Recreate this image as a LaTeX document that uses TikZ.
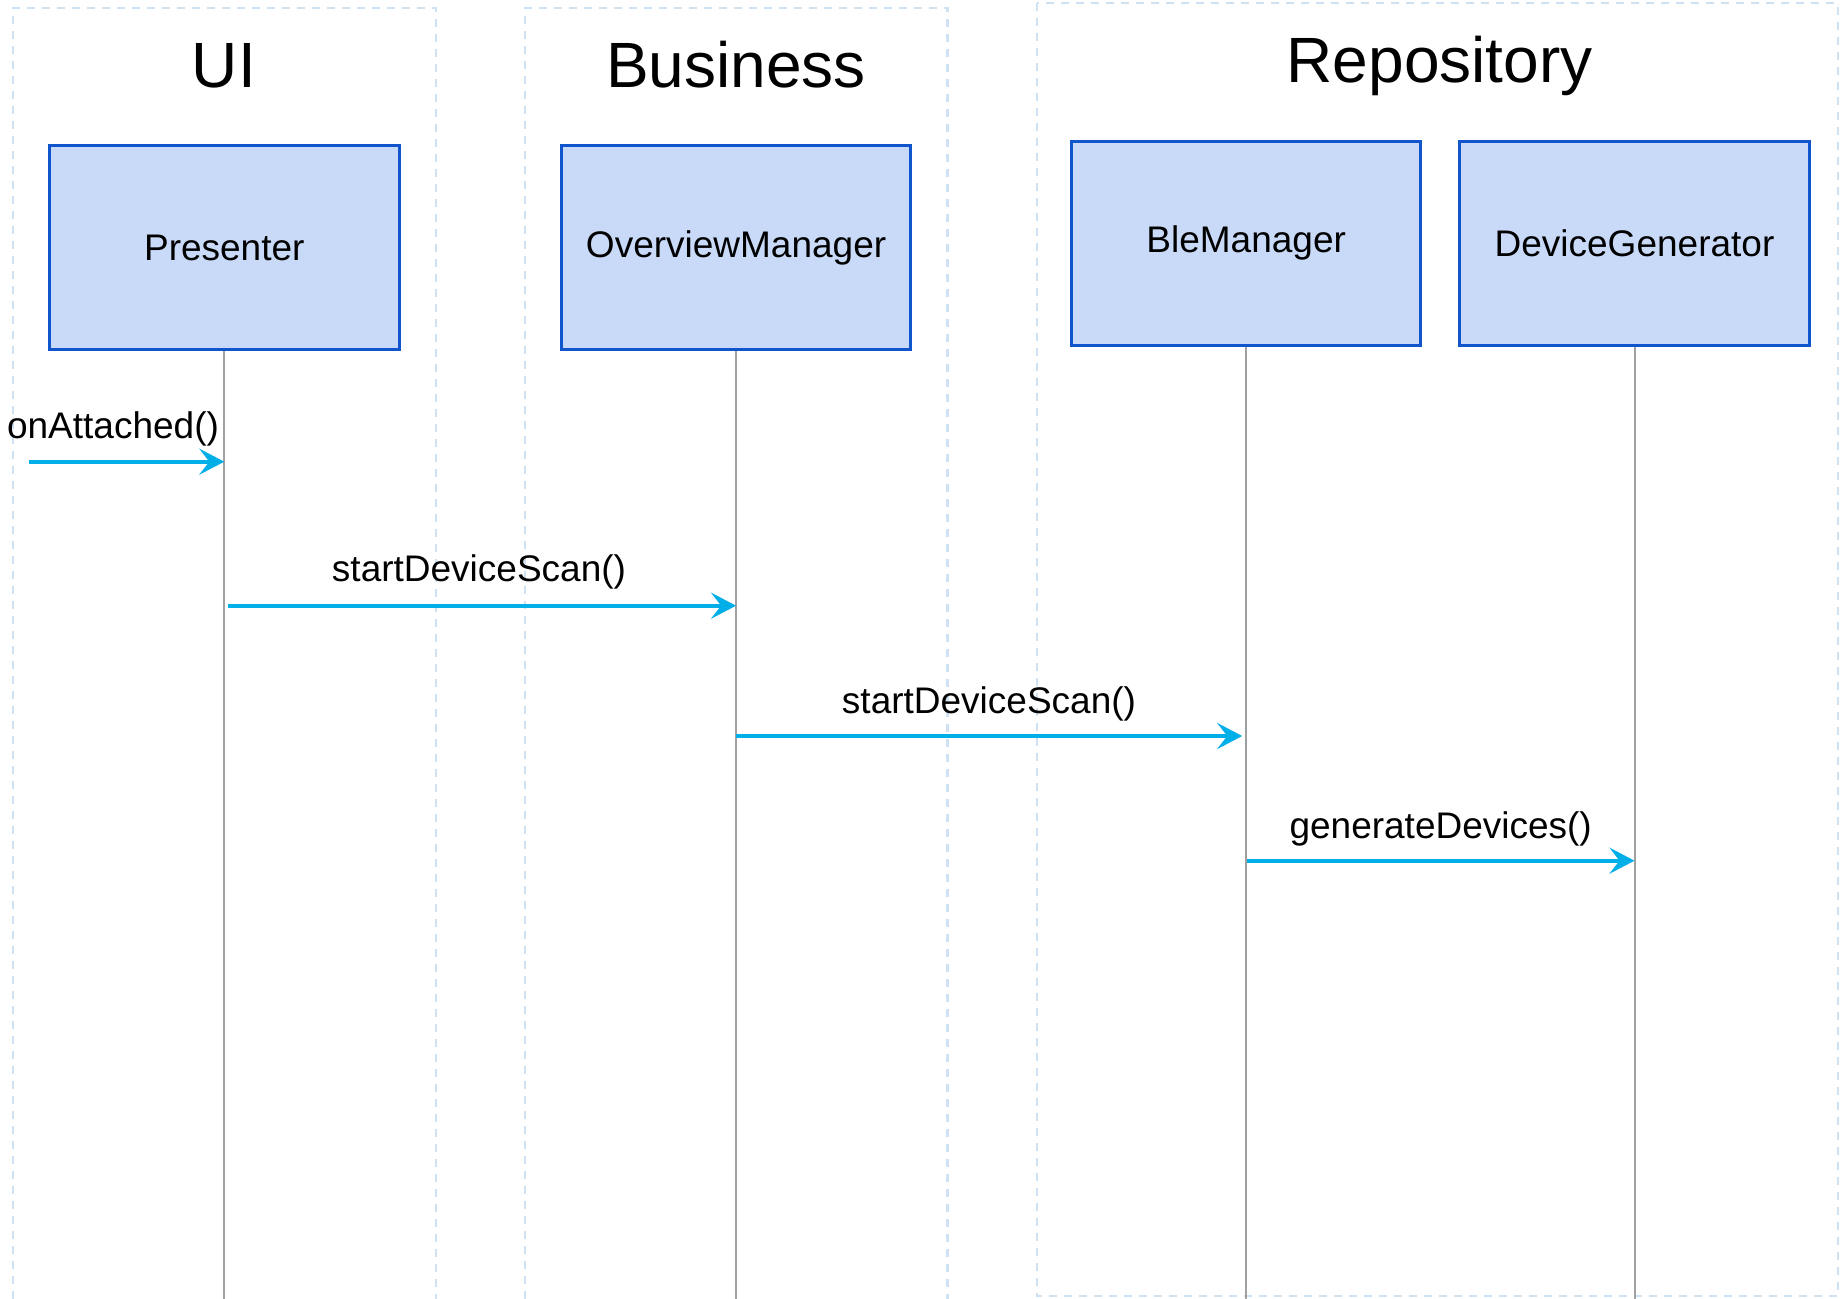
\documentclass[tikz,border=0pt]{standalone}
\usepackage{fontspec}
\setmainfont{Liberation Sans}
\usetikzlibrary{arrows.meta}

\definecolor{boxfill}{RGB}{201,218,248}
\definecolor{boxline}{RGB}{17,85,204}
\definecolor{lanecolor}{RGB}{207,226,243}
\definecolor{lifegray}{RGB}{160,160,160}
\definecolor{msgblue}{RGB}{0,175,232}

\tikzset{
  actor/.style={draw=boxline, fill=boxfill, line width=1.5pt,
    minimum width=174.7pt, minimum height=102pt, inner sep=0pt,
    font=\fontsize{18.5}{22}\selectfont},
  lifeline/.style={draw=lifegray, line width=1pt},
  msg/.style={draw=msgblue, line width=2.2pt,
    -{Stealth[length=12.5pt, width=13pt, inset=5pt]}},
  msglabel/.style={font=\fontsize{18.5}{22}\selectfont, anchor=base, inner sep=0pt},
  lane/.style={draw=lanecolor, line width=1.2pt, dash pattern=on 4pt off 3.5pt},
  lanetitle/.style={font=\fontsize{32}{38}\selectfont, anchor=base, inner sep=0pt},
}

\begin{document}
\begin{tikzpicture}[x=0.5pt, y=-0.5pt]
  % canvas
  \fill[white] (0,0) rectangle (1841,1299);
  \useasboundingbox (0,0) rectangle (1841,1299);

  % swimlanes
  \draw[lane] (13,1299) -- (13,8) -- (435.7,8) -- (435.7,1299);
  \draw[lane] (524.8,1299) -- (524.8,8) -- (947.5,8) -- (947.5,1299);
  \draw[lane] (1037,3.3) rectangle (1838,1296);

  % lane titles
  \node[lanetitle] (tui)   at (223.8,87.3)  {UI};
  \node[lanetitle] (tbiz)  at (736,87.3)    {Business};
  \node[lanetitle] (trepo) at (1439.7,82.7) {Repository};

  % participants
  \node[actor] (pres) at (224.3,247.8)  {Presenter};
  \node[actor] (ovm)  at (736.1,247.8)  {OverviewManager};
  \node[actor] (ble)  at (1246.2,243.1) {BleManager};
  \node[actor] (gen)  at (1634.5,243.1) {DeviceGenerator};

  % lifelines
  \coordinate (presEnd) at (pres.south |- 0,1299);
  \coordinate (ovmEnd)  at (ovm.south |- 0,1299);
  \coordinate (bleEnd)  at (ble.south |- 0,1299);
  \coordinate (genEnd)  at (gen.south |- 0,1299);
  \draw[lifeline] (pres.south) -- (presEnd);
  \draw[lifeline] (ovm.south) -- (ovmEnd);
  \draw[lifeline] (ble.south) -- (bleEnd);
  \draw[lifeline] (gen.south) -- (genEnd);

  % message anchor points on the lifelines
  \coordinate (entry) at (29.3,461.7);
  \coordinate (m1to)   at (pres.south |- 0,461.7);
  \coordinate (m2from) at ([xshift=1.6pt]pres.south |- 0,605.7);
  \coordinate (m2to)   at (ovm.south |- 0,605.7);
  \coordinate (m3from) at (ovm.south |- 0,736);
  \coordinate (m3to)   at ([xshift=-2pt]ble.south |- 0,736);
  \coordinate (m4from) at ([xshift=0.5pt]ble.south |- 0,860.7);
  \coordinate (m4to)   at (gen.south |- 0,860.7);

  % messages
  \draw[msg] (entry) -- (m1to);
  \draw[msg] (m2from) -- (m2to);
  \draw[msg] (m3from) -- (m3to);
  \draw[msg] (m4from) -- (m4to);

  % message labels
  \node[msglabel] (l1) at (113,438)     {onAttached()};
  \node[msglabel] (l2) at (479,581.7)   {startDeviceScan()};
  \node[msglabel] (l3) at (989,713)     {startDeviceScan()};
  \node[msglabel] (l4) at (1440.7,838.3) {generateDevices()};
\end{tikzpicture}
\end{document}
